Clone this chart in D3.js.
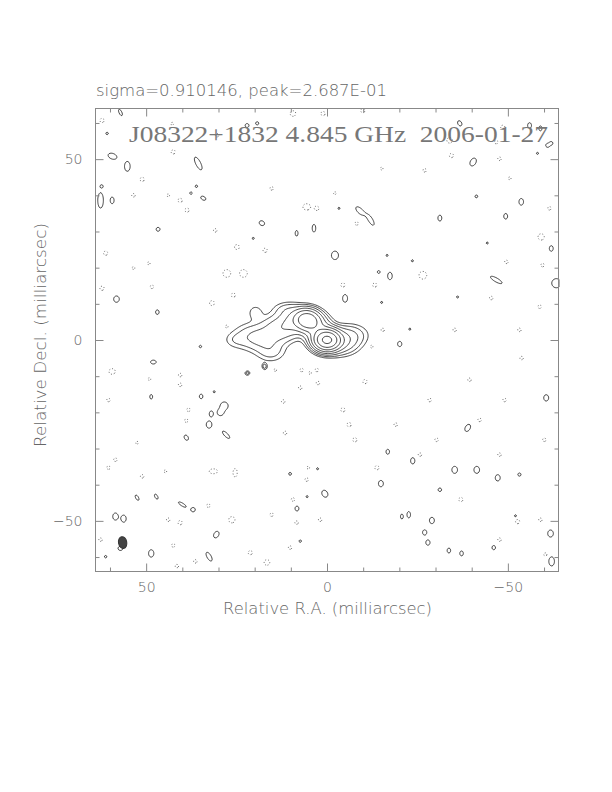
<!DOCTYPE html>
<html>
<head>
<meta charset="utf-8">
<script src="https://cdn.jsdelivr.net/npm/d3@7"></script>
<style>
  body { margin: 0; background: #fff; }
  svg text { font-family: "DejaVu Sans", sans-serif; }
</style>
</head>
<body>
<div id="plot"></div>
<script>
// clean map of J08322+1832, contours drawn with d3.contours

const titleText = "J08322+1832 4.845 GHz  2006-01-27";
const statsText = "sigma=0.910146, peak=2.687E-01";
const majorTicks = [50, 0, -50];
const minorTicks = [-60, -40, -30, -20, -10, 10, 20, 30, 40, 60];
const levels = [1, 2, 4, 8, 16, 32, 64, 128];

// source components: [ra, dec, peak, sigmaA, sigmaB, angle]  (mas, level units)
const sourceComps = [
  [0.0, 0.0, 150, 1.5, 1.9, 90],
  [5.4, 5.5, 55, 2.0, 1.6, 10],
  [2.6, 2.8, 14, 2.4, 2.2, 45],
  [-3.5, -0.5, 9, 2.0, 3.0, 90],
  [-6.5, 1.5, 3, 1.8, 3.0, 90],
  [9.5, 5.0, 8, 2.5, 2.2, 0],
  [13.5, 3.0, 5, 2.8, 2.2, 20],
  [17.5, 0.5, 4, 3.0, 2.2, 0],
  [21.5, 1.0, 2.5, 3.0, 2.3, 0],
  [25.5, 0.0, 1.3, 2.0, 1.4, 0],
  [15.5, -3.2, 2.5, 2.5, 1.8, 0],
  [19.8, 7.6, 1.6, 1.4, 1.4, 0],
  [11.0, 8.5, 2.0, 2.5, 1.3, 0]
];

// positive noise peaks: [ra, dec, rA, rB, angle]
const posNoise = [
  [57.1, 62.9, 1.0, 0.4, 65], [60.8, 57.1, 0.35, 0.35, 0],
  [59.3, 50.8, 1.3, 0.8, 20], [55.2, 48.0, 0.8, 1.4, 0],
  [35.6, 48.8, 2.0, 0.7, 63], [22.1, 59.3, 0.55, 0.55, 0], [19.3, 59.9, 0.45, 0.45, 0],
  [62.6, 38.6, 0.8, 2.2, 0], [59.4, 38.6, 0.55, 0.95, 0], [62.3, 42.5, 0.35, 0.35, 0],
  [36.1, 42.5, 0.35, 0.35, 0], [37.6, 40.6, 0.35, 0.35, 0], [34.2, 39.2, 0.8, 0.5, 30],
  [46.7, 30.6, 0.55, 0.55, 0], [18.0, 32.3, 0.8, 0.65, 30], [8.4, 29.5, 0.4, 0.8, 0],
  [3.6, 30.9, 0.5, 1.1, 0], [20.4, 28.1, 0.3, 0.3, 0], [58.2, 11.3, 0.8, 0.9, 0],
  [46.9, 7.7, 0.5, 0.65, 0],
  [48.0, -6.1, 0.8, 0.55, 0], [48.6, -15.7, 0.4, 0.65, 0], [34.8, -15.6, 0.5, 0.65, 0],
  [31.2, -14.3, 0.3, 0.3, 0], [28.4, -18.2, 1.1, 1.1, 0], [29.5, -20.1, 0.8, 0.8, 0],
  [32.0, -20.4, 0.55, 0.8, 0], [32.6, -23.4, 0.8, 1.0, 0], [27.9, -26.2, 1.4, 0.5, 45],
  [38.9, -27.0, 0.8, 0.55, 60], [22.2, -9.2, 0.4, 0.4, 0], [17.4, -7.2, 0.4, 0.55, 0],
  [52.5, -43.6, 0.85, 0.4, 60], [47.2, -43.3, 0.8, 0.4, 60],
  [40.0, -45.5, 1.3, 0.4, 32], [37.0, -46.9, 0.6, 0.6, 0],
  [58.5, -48.8, 0.75, 1.0, 0], [56.2, -49.4, 0.7, 1.0, 0], [57.1, -57.6, 0.7, 0.6, 0],
  [48.6, -59.0, 0.75, 1.05, 0], [30.6, -53.8, 1.0, 0.7, 120], [32.6, -59.9, 1.4, 0.6, 60],
  [7.4, -55.6, 0.35, 0.35, 0], [5.5, -43.3, 0.3, 0.3, 0], [0.6, -42.5, 1.05, 0.8, 60],
  [2.6, -35.6, 0.3, 0.3, 0], [61.2, -59.9, 0.35, 0.35, 0],
  [35.0, -1.8, 0.35, 0.35, 0], [17.1, -7.4, 0.45, 0.6, 0], [21.8, -9.1, 0.4, 0.4, 0],
  [-36.7, 59.9, 0.8, 0.55, 60], [-56.0, 59.3, 0.55, 0.8, 0], [-59.0, 58.5, 0.45, 0.7, 0],
  [-40.4, 49.2, 1.2, 0.8, 120], [-58.2, 51.6, 0.3, 0.3, 0], [-61.0, 53.8, 0.55, 0.55, 0],
  [-62.0, 54.4, 0.45, 0.45, 0], [-41.3, 39.7, 0.4, 0.4, 0], [-53.7, 38.2, 0.65, 0.95, 0],
  [-3.3, 36.4, 0.3, 0.3, 0], [-9.1, 35.7, 1.5, 0.7, 45], [-12.1, 33.1, 1.6, 0.6, 60],
  [-31.2, 33.7, 0.55, 0.85, 0], [-49.4, 34.2, 0.55, 0.8, 0], [-44.3, 26.8, 0.3, 0.3, 0],
  [-2.2, 23.4, 1.0, 1.2, 0], [-16.6, 23.4, 0.3, 0.3, 0], [-23.6, 21.9, 0.3, 0.3, 0],
  [-14.3, 18.8, 0.4, 0.4, 0], [-17.4, 17.7, 0.65, 1.05, 0], [-46.8, 16.6, 1.9, 0.55, 30],
  [-62.0, 25.3, 0.55, 0.8, 0], [-63.4, 15.7, 1.3, 1.3, 0], [-5.0, 11.5, 0.7, 1.1, 0],
  [-15.1, 10.4, 0.3, 0.3, 0], [-36.1, 11.9, 0.3, 0.3, 0], [-20.1, -1.1, 0.6, 0.75, 0],
  [-22.9, 3.0, 0.3, 0.3, 0],
  [-38.9, -24.3, 1.1, 0.7, 120], [-16.8, -30.9, 0.5, 0.7, 0], [-23.7, -33.4, 0.6, 0.9, 0],
  [-35.3, -35.9, 0.8, 1.0, 0], [-41.4, -35.9, 0.8, 1.0, 0], [-47.2, -38.1, 0.7, 0.9, 0],
  [-14.9, -39.7, 0.7, 0.9, 0], [10.2, -37.0, 0.4, 0.4, 0], [8.3, -46.6, 0.55, 0.7, 0],
  [-22.6, -48.3, 0.5, 0.9, 0], [-20.7, -48.8, 0.4, 0.7, 0], [-29.0, -49.9, 0.7, 0.9, 0],
  [-27.0, -53.2, 0.6, 0.75, 0], [-27.9, -56.0, 0.6, 0.75, 0], [-33.7, -58.2, 0.5, 0.7, 0],
  [-37.2, -59.0, 0.5, 0.7, 0], [-46.1, -57.4, 0.5, 0.6, 0], [-52.1, -48.6, 0.3, 0.3, 0],
  [-61.8, -53.5, 0.8, 1.0, 0], [-62.1, -61.2, 0.8, 1.3, 0], [-53.2, -37.2, 0.45, 0.45, 0],
  [-31.2, -41.4, 0.5, 0.5, 0], [-60.6, -16.0, 0.7, 0.9, 0]
];

// negative noise peaks: [ra, dec, rA, rB]
const negNoise = [
  [62.2, 60.7, 0.6, 0.6], [42.8, 59.8, 0.4, 0.4], [9.4, 62.6, 0.8, 0.8], [1.1, 62.6, 0.6, 0.6],
  [-9.9, 63.4, 0.6, 0.6], [-33.9, 55.2, 0.8, 0.8], [-48.6, 58.8, 0.6, 0.6], [-46.8, 54.7, 0.5, 0.5],
  [30.4, 56.6, 0.5, 0.5], [42.5, 52.0, 0.6, 0.6], [51.1, 44.4, 0.6, 0.6], [53.5, 40.0, 0.5, 0.5],
  [43.9, 40.0, 0.4, 0.4], [40.6, 38.6, 0.6, 0.6], [38.7, 35.9, 0.6, 0.6], [15.3, 41.9, 0.5, 0.5],
  [5.6, 36.8, 1.1, 0.9], [2.8, 36.4, 0.6, 0.6], [30.9, 30.3, 0.5, 0.5], [24.9, 25.7, 0.7, 0.7],
  [17.1, 24.8, 0.6, 0.6], [61.2, 24.0, 0.6, 0.6], [27.7, 18.4, 1.1, 1.1], [23.1, 18.4, 1.1, 1.1],
  [49.3, 21.2, 0.4, 0.4], [53.5, 19.9, 0.4, 0.4], [62.2, 14.3, 0.6, 0.6], [48.4, 14.7, 0.5, 0.5],
  [25.9, 12.4, 0.6, 0.6], [31.8, 10.2, 0.7, 0.7], [-4.4, 15.2, 0.6, 0.6], [-13.2, 15.2, 0.6, 0.6],
  [27.7, 3.7, 0.5, 0.5], [-12.3, -1.8, 0.5, 0.5], [-15.4, 2.8, 0.5, 0.5],
  [7.0, -8.3, 0.5, 0.5], [2.8, -8.3, 0.5, 0.5], [14.3, -8.3, 0.4, 0.4], [7.4, -13.2, 0.5, 0.5],
  [2.5, -11.9, 0.5, 0.5], [-10.5, -11.5, 0.6, 0.6], [59.4, -8.7, 0.9, 0.8], [40.6, -9.7, 0.5, 0.5],
  [40.6, -12.4, 0.5, 0.5], [60.4, -16.6, 0.5, 0.5], [49.1, -10.8, 0.4, 0.4], [38.3, -19.3, 0.5, 0.5],
  [38.9, -22.3, 0.5, 0.5], [52.5, -28.4, 0.4, 0.4], [58.5, -33.1, 0.5, 0.5], [60.4, -35.3, 0.5, 0.5],
  [51.1, -37.7, 0.5, 0.5], [44.7, -36.3, 0.4, 0.4], [31.4, -36.3, 1.2, 0.7], [25.4, -36.7, 0.6, 1.2],
  [32.8, -45.8, 0.5, 0.5], [43.9, -49.7, 0.5, 0.5], [40.6, -50.5, 0.6, 0.6], [26.3, -49.7, 0.9, 0.9],
  [62.6, -55.2, 0.5, 0.5], [42.5, -56.8, 0.5, 0.5], [21.2, -58.8, 0.6, 0.6], [15.3, -48.3, 0.5, 0.5],
  [11.6, -25.7, 0.5, 0.5], [12.1, -17.0, 0.5, 0.5], [4.7, -9.1, 0.4, 0.4], [9.4, -44.1, 0.5, 0.5],
  [8.4, -50.5, 0.5, 0.5], [10.2, -57.4, 0.5, 0.5], [1.9, -49.7, 0.5, 0.5], [5.6, -38.6, 0.5, 0.5],
  [5.2, -35.3, 0.4, 0.4], [41.5, -62.5, 0.5, 0.5], [36.4, -61.2, 0.5, 0.5], [16.6, -61.5, 0.8, 0.8],
  [-34.4, 51.0, 0.6, 0.6], [-47.7, 50.1, 0.5, 0.5], [-27.0, 46.9, 0.5, 0.5], [-50.5, 44.7, 0.4, 0.4],
  [-15.1, 47.4, 0.4, 0.4], [-2.2, 40.6, 0.4, 0.4], [-8.2, 32.2, 0.5, 0.5], [-61.5, 36.4, 0.5, 0.5],
  [-59.2, 28.5, 0.9, 0.9], [-59.6, 20.7, 0.5, 0.5], [-49.6, 21.6, 0.5, 0.5], [-26.5, 17.9, 1.1, 1.1],
  [-58.8, 9.2, 0.5, 0.5], [-45.4, 11.6, 0.5, 0.5],
  [-4.4, -19.3, 0.6, 0.6], [-6.1, -23.4, 0.6, 0.6], [-7.7, -27.6, 0.6, 0.6], [-19.0, -23.4, 0.5, 0.5],
  [-30.3, -27.6, 0.5, 0.5], [-25.7, -31.7, 0.5, 0.5], [-13.8, -35.3, 0.6, 0.6], [-42.2, -22.1, 0.5, 0.5],
  [-47.7, -31.7, 0.5, 0.5], [-37.0, -44.1, 0.6, 0.6], [-47.7, -55.2, 0.5, 0.5], [-52.7, -50.2, 0.6, 0.6],
  [-59.0, -49.7, 0.5, 0.5], [-60.4, -59.3, 0.5, 0.5], [-49.1, -16.6, 0.5, 0.5], [-60.1, -27.6, 0.5, 0.5],
  [-39.4, -11.0, 0.5, 0.5], [-28.4, -16.6, 0.5, 0.5], [-35.3, 2.8, 0.5, 0.5], [-53.2, 2.8, 0.5, 0.5],
  [-53.8, -5.0, 0.5, 0.5]
];

// restoring beam (ra, dec, half-axes in mas)
const beam = { ra: 56.5, dec: -56.0, a: 1.15, b: 1.65, angle: -10 };

const W = 612, H = 792;
const half = 64;
const x = d3.scaleLinear().domain([half, -half]).range([95.5, 558.5]);
const y = d3.scaleLinear().domain([-half, half]).range([571.5, 108.5]);

const svg = d3.select("#plot").append("svg")
    .attr("width", W)
    .attr("height", H);

// --- build the image grid from the component lists
const step = 0.25;
const n = Math.round(2 * half / step) + 1;
const grid = new Float64Array(n * n);

function addGauss(ra, dec, amp, sa, sb, angDeg) {
  const t = angDeg * Math.PI / 180, c = Math.cos(t), s = Math.sin(t);
  const reach = 4 * Math.max(sa, sb);
  const i0 = Math.max(0, Math.floor((half - ra - reach) / step));
  const i1 = Math.min(n - 1, Math.ceil((half - ra + reach) / step));
  const j0 = Math.max(0, Math.floor((half - dec - reach) / step));
  const j1 = Math.min(n - 1, Math.ceil((half - dec + reach) / step));
  for (let j = j0; j <= j1; j++) {
    const dy = (half - j * step) - dec;
    for (let i = i0; i <= i1; i++) {
      const dx = (half - i * step) - ra;
      const u = dx * c + dy * s, v = -dx * s + dy * c;
      grid[j * n + i] += amp * Math.exp(-0.5 * (u * u / (sa * sa) + v * v / (sb * sb)));
    }
  }
}

sourceComps.forEach(d => addGauss(d[0], d[1], d[2], d[3], d[4], d[5]));
posNoise.forEach(d => addGauss(d[0], d[1], 1.6, d[2], d[3], d[4]));
negNoise.forEach(d => addGauss(d[0], d[1], -1.6, d[2], d[3], 0));

const negGrid = grid.map(v => -v);

const toPx = d3.geoTransform({
  point: function(cx, cy) {
    this.stream.point(x(half - (cx - 0.5) * step), y(half - (cy - 0.5) * step));
  }
});
const path = d3.geoPath(toPx);

// positive contours
svg.append("g")
  .selectAll("path")
  .data(d3.contours().size([n, n]).thresholds(levels)(Array.from(grid)))
  .join("path")
    .attr("d", path)
    .attr("fill", "none")
    .attr("stroke", "#2a2a2a")
    .attr("stroke-width", 0.9);

// negative contour (dotted)
svg.append("g")
  .selectAll("path")
  .data(d3.contours().size([n, n]).thresholds([1])(Array.from(negGrid)))
  .join("path")
    .attr("d", path)
    .attr("fill", "none")
    .attr("stroke", "#555")
    .attr("stroke-width", 0.9)
    .attr("stroke-dasharray", "1,2");

// beam
svg.append("ellipse")
  .attr("cx", x(beam.ra))
  .attr("cy", y(beam.dec))
  .attr("rx", x(0) - x(beam.a))
  .attr("ry", y(0) - y(beam.b))
  .attr("transform", `rotate(${beam.angle},${x(beam.ra)},${y(beam.dec)})`)
  .attr("fill", "#444")
  .attr("stroke", "#333");

// --- frame and ticks
svg.append("rect")
  .attr("x", x(half)).attr("y", y(half))
  .attr("width", x(-half) - x(half)).attr("height", y(-half) - y(half))
  .attr("fill", "none").attr("stroke", "#888").attr("stroke-width", 1);

const tickColor = "#888";
function ticks(axisFn, vals, size, transform, labels, pad) {
  const g = svg.append("g")
    .attr("transform", transform)
    .call(axisFn.tickValues(vals).tickSize(-size).tickPadding(pad || 3)
      .tickFormat(labels ? d3.format("d") : ""));
  g.select(".domain").remove();
  g.selectAll("line").attr("stroke", tickColor);
  g.selectAll("text").attr("fill", "#666")
    .attr("font-size", 14).attr("font-family", "DejaVu Sans").attr("font-weight", 300);
  return g;
}
const bottomY = `translate(0,${y(-half)})`, topY = `translate(0,${y(half)})`;
const leftX = `translate(${x(half)},0)`, rightX = `translate(${x(-half)},0)`;

ticks(d3.axisBottom(x), minorTicks, 4, bottomY, false);
ticks(d3.axisBottom(x), majorTicks, 8, bottomY, true, 11);
ticks(d3.axisTop(x), minorTicks, 4, topY, false);
ticks(d3.axisTop(x), majorTicks, 8, topY, false);
ticks(d3.axisLeft(y), minorTicks, 4, leftX, false);
ticks(d3.axisLeft(y), majorTicks, 8, leftX, true, 13);
ticks(d3.axisRight(y), minorTicks, 4, rightX, false);
ticks(d3.axisRight(y), majorTicks, 8, rightX, false);

// --- texts
svg.append("text")
  .attr("x", 96).attr("y", 96)
  .attr("font-size", 15).attr("font-weight", 300).attr("fill", "#666")
  .attr("textLength", 291).attr("lengthAdjust", "spacingAndGlyphs")
  .text(statsText);

svg.append("text")
  .attr("x", 129).attr("y", 142)
  .attr("font-size", 23).attr("fill", "#777")
  .style("font-family", "'Liberation Serif', serif")
  .attr("textLength", 419).attr("lengthAdjust", "spacingAndGlyphs")
  .style("white-space", "pre")
  .text(titleText);

svg.append("text")
  .attr("x", 223).attr("y", 614)
  .attr("font-size", 15).attr("font-weight", 300).attr("fill", "#666")
  .attr("textLength", 209).attr("lengthAdjust", "spacingAndGlyphs")
  .text("Relative R.A. (milliarcsec)");

svg.append("text")
  .attr("transform", "translate(46,447) rotate(-90)")
  .attr("font-size", 15).attr("font-weight", 300).attr("fill", "#666")
  .attr("textLength", 224).attr("lengthAdjust", "spacingAndGlyphs")
  .text("Relative Decl. (milliarcsec)");
</script>
</body>
</html>
